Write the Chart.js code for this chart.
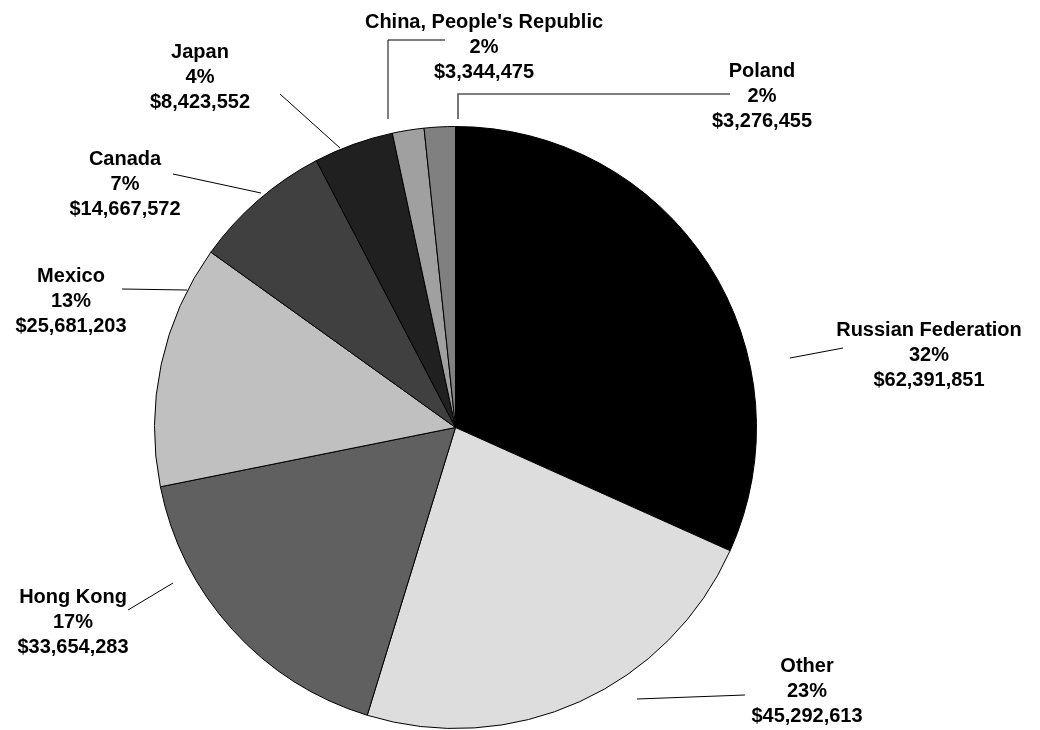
<!DOCTYPE html>
<html>
<head>
<meta charset="utf-8">
<script src="https://cdn.jsdelivr.net/npm/chart.js@4.4.0/dist/chart.umd.min.js"></script>
<style>
  html, body { margin: 0; padding: 0; background: #ffffff; }
  #wrap { position: relative; width: 1040px; height: 730px; }
</style>
</head>
<body>
<div id="wrap"><canvas id="c" width="1040" height="730"></canvas></div>
<script>
const categories = ["Russian Federation", "Other", "Hong Kong", "Mexico", "Canada", "Japan", "China, People's Republic", "Poland"];
const values = [62391851, 45292613, 33654283, 25681203, 14667572, 8423552, 3344475, 3276455];
const sliceColors = ["#000000", "#dddddd", "#606060", "#c0c0c0", "#404040", "#202020", "#a0a0a0", "#808080"];

// label layout: text center x, first-line cap-center y; leader polyline points
const labelLayout = [
  { x: 929, y: 329, leader: [[790, 358], [843, 348]], color: "#000", w: 1 },
  { x: 807, y: 665, leader: [[637, 699], [745, 695]], color: "#000", w: 1 },
  { x: 73,  y: 596, leader: [[128, 610], [173, 583]], color: "#000", w: 1 },
  { x: 71,  y: 275, leader: [[122, 289], [187, 290]], color: "#000", w: 1 },
  { x: 125, y: 158, leader: [[173, 174], [261, 193]], color: "#000", w: 1 },
  { x: 200, y: 51,  leader: [[280, 94], [340, 148]], color: "#000", w: 1 },
  { x: 484, y: 21,  leader: [[445, 40], [388, 40], [388, 119]], color: "#000", w: 1 },
  { x: 762, y: 70,  leader: [[730, 94], [458, 94], [458, 119]], color: "#555", w: 1.6 }
];

const total = values.reduce((a, b) => a + b, 0);
const fmtMoney = v => "$" + v.toLocaleString("en-US");

const labelPlugin = {
  id: "outsideLabels",
  afterDraw(chart) {
    const ctx = chart.ctx;
    ctx.save();
    labelLayout.forEach((L, i) => {
      ctx.beginPath();
      ctx.strokeStyle = L.color;
      ctx.lineWidth = L.w;
      L.leader.forEach((p, k) => { if (k === 0) ctx.moveTo(p[0], p[1]); else ctx.lineTo(p[0], p[1]); });
      ctx.stroke();
      const pct = Math.round(values[i] / total * 100) + "%";
      const lines = [categories[i], pct, fmtMoney(values[i])];
      ctx.fillStyle = "#000";
      ctx.font = "bold 20px 'Liberation Sans', Arial, sans-serif";
      ctx.textAlign = "center";
      ctx.textBaseline = "alphabetic";
      lines.forEach((t, k) => {
        ctx.fillText(t, L.x, L.y + k * 25 + 7.2);
      });
    });
    ctx.restore();
  }
};

new Chart(document.getElementById("c"), {
  type: "pie",
  data: {
    labels: categories,
    datasets: [{
      data: values,
      backgroundColor: sliceColors,
      borderColor: "#000000",
      borderWidth: 1,
      borderAlign: "center"
    }]
  },
  options: {
    responsive: false,
    animation: false,
    events: [],
    layout: { padding: { left: 154, right: 283, top: 126, bottom: 1 } },
    plugins: {
      legend: { display: false },
      tooltip: { enabled: false },
      title: { display: false }
    }
  },
  plugins: [labelPlugin]
});
</script>
</body>
</html>
